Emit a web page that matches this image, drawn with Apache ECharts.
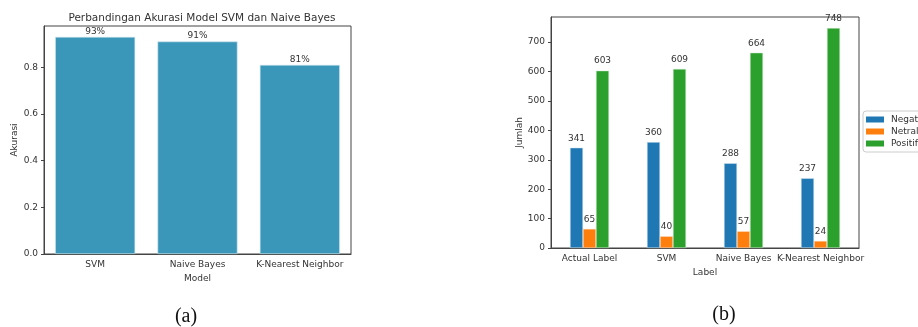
<!DOCTYPE html>
<html>
<head>
<meta charset="utf-8">
<script src="https://cdn.jsdelivr.net/npm/echarts@6/dist/echarts.min.js"></script>
<style>html,body{margin:0;padding:0;background:#fff;}#c{width:918px;height:327px;}</style>
</head>
<body>
<div id="c"></div>
<script>
const modelCategories = ['SVM', 'Naive Bayes', 'K-Nearest Neighbor'];
const accuracy = [0.93, 0.91, 0.81];
const accuracyTicks = [0, 0.2, 0.4, 0.6, 0.8];

const labelCategories = ['Actual Label', 'SVM', 'Naive Bayes', 'K-Nearest Neighbor'];
const negatif = [341, 360, 288, 237];
const netral = [65, 40, 57, 24];
const positif = [603, 609, 664, 748];
const countTicks = [0, 100, 200, 300, 400, 500, 600, 700];

const FONT = 'DejaVu Sans';
const TXT = '#333';
const AX = '#444';
const tickFont = { fontFamily: FONT, fontSize: 9, color: TXT };

const chart = echarts.init(document.getElementById('c'), null, { renderer: 'canvas' });

chart.setOption({
  animation: false,
  backgroundColor: '#fff',
  title: [
    { text: 'Perbandingan Akurasi Model SVM dan Naive Bayes', left: 197, top: 8, textAlign: 'center',
      textStyle: { fontFamily: FONT, fontSize: 10.5, fontWeight: 'normal', color: TXT } },
    { text: '(a)', left: 181, top: 302, textAlign: 'center',
      textStyle: { fontFamily: 'Liberation Serif', fontSize: 20, fontWeight: 'normal', color: '#111' } },
    { text: '(b)', left: 719, top: 300, textAlign: 'center',
      textStyle: { fontFamily: 'Liberation Serif', fontSize: 20, fontWeight: 'normal', color: '#111' } }
  ],
  legend: {
    data: ['Negatif', 'Netral', 'Positif'],
    orient: 'vertical',
    left: 863, top: 111,
    itemWidth: 18, itemHeight: 6, itemGap: 3,
    borderColor: '#ccc', borderWidth: 1, borderRadius: 3,
    padding: [4, 6, 4, 3],
    icon: 'rect',
    itemStyle: { borderWidth: 0 },
    textStyle: { fontFamily: FONT, fontSize: 9, color: TXT, padding: [0, 0, 0, 2] }
  },
  grid: [
    { left: 44, top: 26, width: 307, height: 228, show: true, borderColor: AX, borderWidth: 1, backgroundColor: 'transparent' },
    { left: 551, top: 17, width: 308, height: 231, show: true, borderColor: AX, borderWidth: 1, backgroundColor: 'transparent' }
  ],
  xAxis: [
    { type: 'category', gridIndex: 0, data: modelCategories,
      name: 'Model', nameLocation: 'middle', nameGap: 18,
      nameTextStyle: { fontFamily: FONT, fontSize: 9, color: TXT },
      axisLine: { lineStyle: { color: AX } },
      axisTick: { alignWithLabel: true, length: 3, lineStyle: { color: AX } },
      axisLabel: Object.assign({ margin: 6, interval: 0 }, tickFont) },
    { type: 'category', gridIndex: 1, data: labelCategories,
      name: 'Label', nameLocation: 'middle', nameGap: 19,
      nameTextStyle: { fontFamily: FONT, fontSize: 9, color: TXT },
      axisLine: { lineStyle: { color: AX } },
      axisTick: { alignWithLabel: true, length: 3, lineStyle: { color: AX } },
      axisLabel: Object.assign({ margin: 6, interval: 0 }, tickFont) }
  ],
  yAxis: [
    { type: 'value', gridIndex: 0, min: 0, max: 0.9765,
      name: 'Akurasi', nameLocation: 'middle', nameGap: 25,
      nameTextStyle: { fontFamily: FONT, fontSize: 9, color: TXT },
      splitLine: { show: false },
      axisLine: { show: true, lineStyle: { color: AX } },
      axisTick: { show: true, length: 3, lineStyle: { color: AX }, customValues: accuracyTicks },
      axisLabel: Object.assign({ margin: 6, customValues: accuracyTicks, formatter: v => v.toFixed(1) }, tickFont) },
    { type: 'value', gridIndex: 1, min: 0, max: 785.4,
      name: 'Jumlah', nameLocation: 'middle', nameGap: 27,
      nameTextStyle: { fontFamily: FONT, fontSize: 9, color: TXT },
      splitLine: { show: false },
      axisLine: { show: true, lineStyle: { color: AX } },
      axisTick: { show: true, length: 3, lineStyle: { color: AX }, customValues: countTicks },
      axisLabel: Object.assign({ margin: 6, customValues: countTicks }, tickFont) }
  ],
  series: [
    { type: 'bar', xAxisIndex: 0, yAxisIndex: 0, data: accuracy, barWidth: 80,
      itemStyle: { color: '#3a97b9', borderColor: '#cfe6ee', borderWidth: 0.6 },
      label: { show: true, position: 'top', distance: 1, fontFamily: FONT, fontSize: 9, color: TXT,
        formatter: p => Math.round(p.value * 100) + '%' } },
    { name: 'Negatif', type: 'bar', xAxisIndex: 1, yAxisIndex: 1, data: negatif, barWidth: 13, barGap: '0%',
      itemStyle: { color: '#1f77b4', borderColor: '#d8e6f0', borderWidth: 0.5 },
      label: { show: true, position: 'top', distance: 5, fontFamily: FONT, fontSize: 9, color: TXT } },
    { name: 'Netral', type: 'bar', xAxisIndex: 1, yAxisIndex: 1, data: netral, barWidth: 13, barGap: '0%',
      itemStyle: { color: '#ff7f0e', borderColor: '#fde3cc', borderWidth: 0.5 },
      label: { show: true, position: 'top', distance: 5, fontFamily: FONT, fontSize: 9, color: TXT } },
    { name: 'Positif', type: 'bar', xAxisIndex: 1, yAxisIndex: 1, data: positif, barWidth: 13, barGap: '0%',
      itemStyle: { color: '#2ca02c', borderColor: '#d6ecd6', borderWidth: 0.5 },
      label: { show: true, position: 'top', distance: 5, fontFamily: FONT, fontSize: 9, color: TXT } }
  ]
});
</script>
</body>
</html>
